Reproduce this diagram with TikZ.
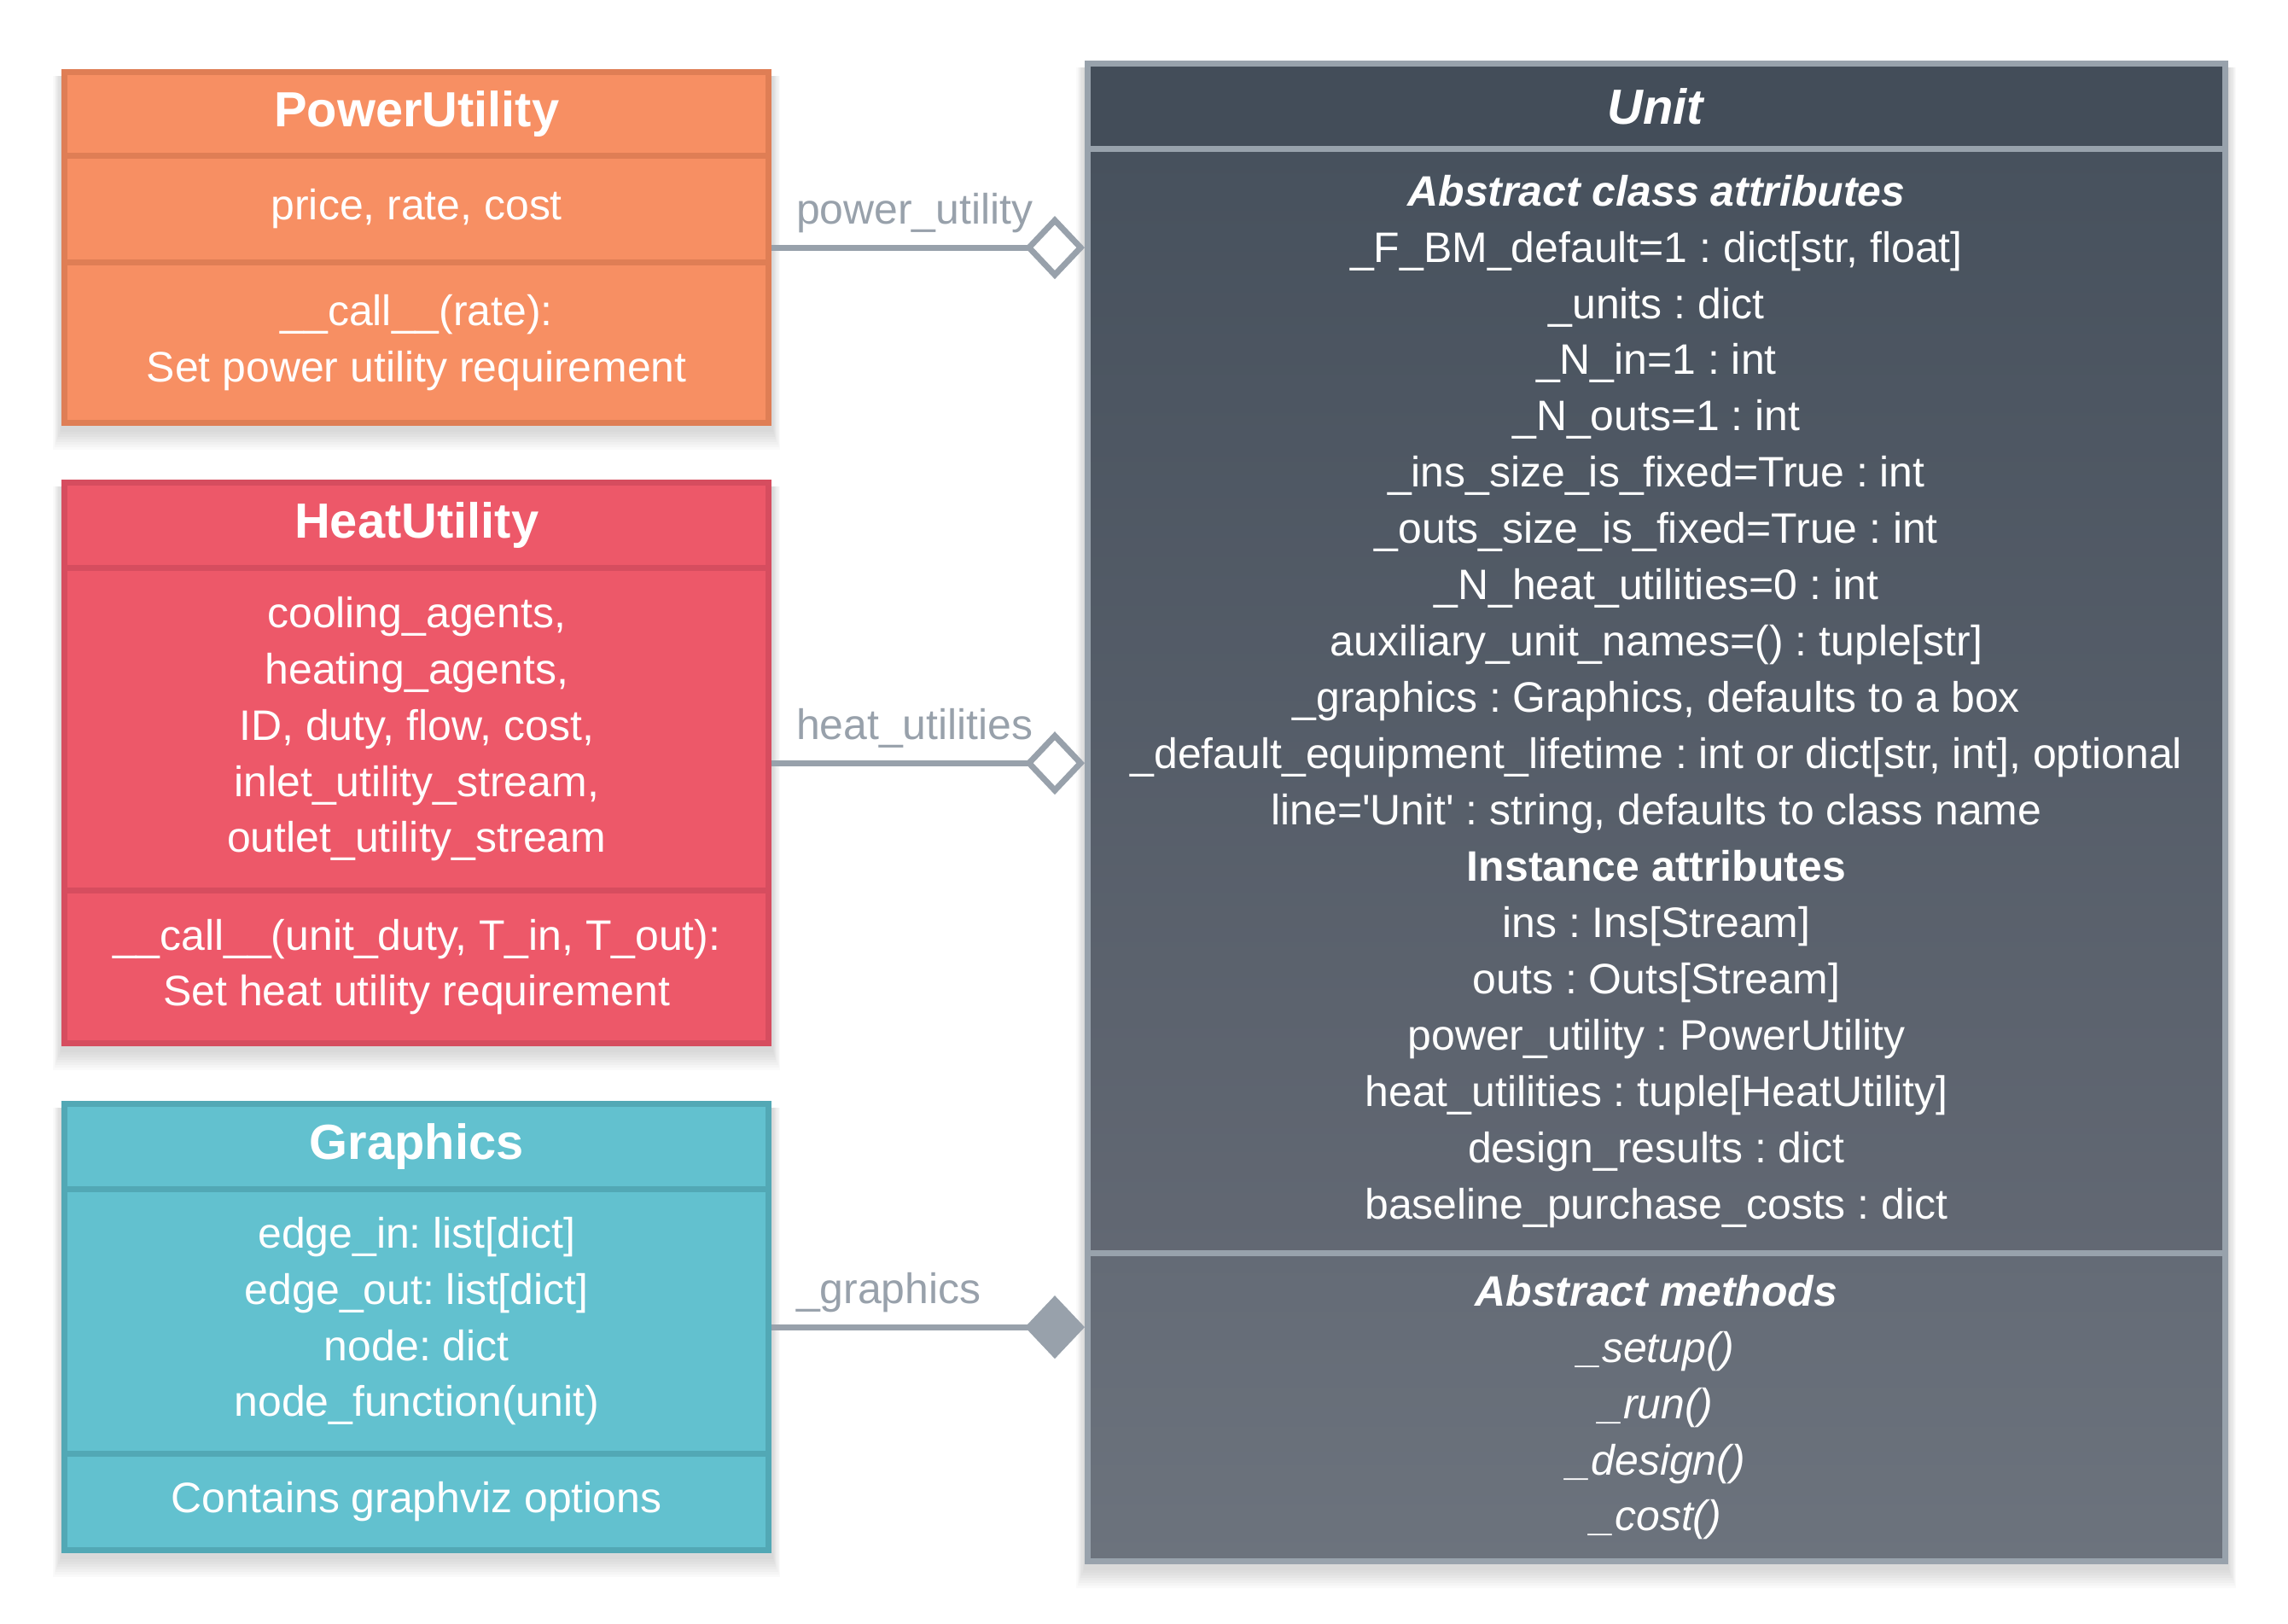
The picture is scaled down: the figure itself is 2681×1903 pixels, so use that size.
\documentclass[tikz,border=0pt]{standalone}
\usepackage{fontspec}
\setmainfont{Liberation Sans}
\usetikzlibrary{positioning,fit,arrows.meta,backgrounds}
\frenchspacing

\definecolor{puFill}{HTML}{F78F63}
\definecolor{puLine}{HTML}{DF7E55}
\definecolor{htFill}{HTML}{ED5869}
\definecolor{htLine}{HTML}{D64D5F}
\definecolor{grFill}{HTML}{62C1CF}
\definecolor{grLine}{HTML}{52A8B5}
\definecolor{unLine}{HTML}{98A2AC}
\definecolor{unHead}{HTML}{434D59}
\definecolor{unTop}{HTML}{47515D}
\definecolor{unMid}{HTML}{626873}
\definecolor{unLow}{HTML}{646B76}
\definecolor{unBot}{HTML}{6C737D}
\definecolor{linkGray}{HTML}{98A1AB}

\begin{document}
\begin{tikzpicture}[x=0.01cm,y=-0.01cm,
	part/.style={draw, line width=0.07cm, minimum width=8.25cm, inner sep=0pt, outer sep=0pt, text=white, align=center, font=\fontsize{14.2}{18.75}\selectfont},
	head/.style={part, font=\bfseries\fontsize{16.45}{20}\selectfont},
	whole/.style={inner sep=0pt, outer sep=0.035cm},
	link/.style={draw=linkGray, line width=0.07cm},
	aggr/.style={-{Diamond[fill=white,length=0.70cm,width=0.74cm]}},
	comp/.style={-{Diamond[length=0.70cm,width=0.74cm]}},
	lbl/.style={text=linkGray, anchor=base west, inner sep=0pt, xshift=0.25cm, yshift=0.28cm, font=\fontsize{14.2}{18.75}\selectfont}]
	\useasboundingbox (0,0) rectangle (2681,1903);
	
	\node[head, fill=puFill, draw=puLine, minimum height=0.975cm, anchor=north west] (pu-head) at (75.5,84.5) {PowerUtility};
	\node[part, fill=puFill, draw=puLine, minimum height=1.25cm, below=0pt of pu-head] (pu-attr) {price, rate, cost};
	\node[part, fill=puFill, draw=puLine, minimum height=1.885cm, below=0pt of pu-attr] (pu-meth) {\_\_call\_\_(rate):\\Set power utility requirement};
	
	\node[head, fill=htFill, draw=htLine, minimum height=0.995cm, anchor=north west] (ht-head) at (75.5,565.5) {HeatUtility};
	\node[part, fill=htFill, draw=htLine, minimum height=3.78cm, below=0pt of ht-head] (ht-attr) {cooling\_agents,\\heating\_agents,\\ID, duty, flow, cost,\\inlet\_utility\_stream,\\outlet\_utility\_stream};
	\node[part, fill=htFill, draw=htLine, minimum height=1.795cm, below=0pt of ht-attr] (ht-meth) {\_\_call\_\_(unit\_duty, T\_in, T\_out):\\Set heat utility requirement};
	
	\node[head, fill=grFill, draw=grLine, minimum height=0.995cm, anchor=north west] (gr-head) at (75.5,1293.5) {Graphics};
	\node[part, fill=grFill, draw=grLine, minimum height=3.10cm, below=0pt of gr-head] (gr-attr) {edge\_in: list[dict]\\edge\_out: list[dict]\\node: dict\\node\_function(unit)};
	\node[part, fill=grFill, draw=grLine, minimum height=1.135cm, below=0pt of gr-attr] (gr-meth) {Contains graphviz options};
	
	\node[head, fill=unHead, draw=unLine, minimum width=13.32cm, minimum height=1.0cm, anchor=north west] (un-head) at (1274.5,74.5) {\textit{Unit}};
	\node[part, top color=unTop, bottom color=unMid, draw=unLine, minimum width=13.32cm, minimum height=12.935cm, below=0pt of un-head] (un-attr) {\textbf{\textit{Abstract class attributes}}\\
		\_F\_BM\_default=1 : dict[str, float]\\
		\_units : dict\\
		\_N\_in=1 : int\\
		\_N\_outs=1 : int\\
		\_ins\_size\_is\_fixed=True : int\\
		\_outs\_size\_is\_fixed=True : int\\
		\_N\_heat\_utilities=0 : int\\
		auxiliary\_unit\_names=() : tuple[str]\\
		\_graphics : Graphics, defaults to a box\\
		\_default\_equipment\_lifetime : int or dict[str, int], optional\\
		line=\textquotesingle Unit\textquotesingle{} : string, defaults to class name\\
		\textbf{Instance attributes}\\
		ins : Ins[Stream]\\
		outs : Outs[Stream]\\
		power\_utility : PowerUtility\\
		heat\_utilities : tuple[HeatUtility]\\
		design\_results : dict\\
		baseline\_purchase\_costs : dict};
	\node[part, top color=unLow, bottom color=unBot, draw=unLine, minimum width=13.32cm, minimum height=3.605cm, below=0pt of un-attr] (un-meth) {\textbf{\textit{Abstract methods}}\\
		\textit{\_setup()}\\
		\textit{\_run()}\\
		\textit{\_design()}\\
		\textit{\_cost()}};
	
	\node[whole, fit=(pu-head)(pu-meth)] (power) {};
	\node[whole, fit=(ht-head)(ht-meth)] (heat) {};
	\node[whole, fit=(gr-head)(gr-meth)] (graphics) {};
	\node[whole, fit=(un-head)(un-meth)] (unit) {};
	
	\foreach \src/\lab/\kind in {power/power\_utility/aggr, heat/heat\_utilities/aggr, graphics/\_graphics/comp}{
		\draw[link,\kind] (\src.east) -- node[lbl, pos=0] {\lab} (\src.east -| unit.west);
	}
	
	\begin{scope}[on background layer]
		\foreach \b in {power,heat,graphics,unit}{
			\foreach \s in {1,...,8}{
				\fill[black, opacity=0.02] ([xshift=-\s*0.012cm, yshift=-0.08cm]\b.north west) rectangle ([xshift=\s*0.012cm, yshift=-0.04cm-\s*0.03cm]\b.south east);
			}
		}
	\end{scope}
\end{tikzpicture}
\end{document}
